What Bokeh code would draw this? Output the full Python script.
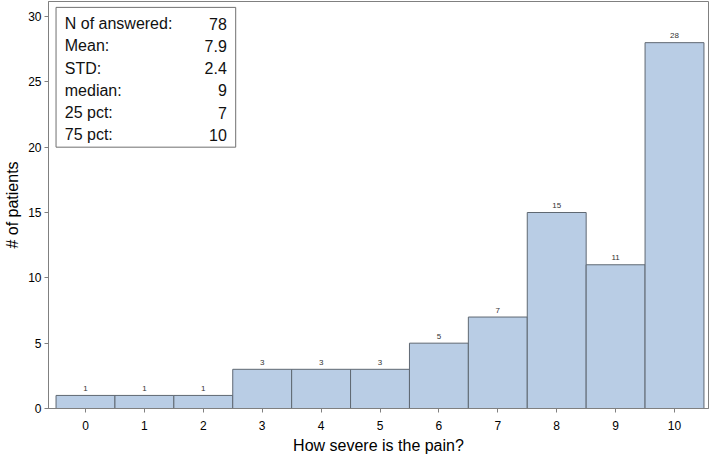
from bokeh.plotting import figure
from bokeh.models import Range1d, FixedTicker, ColumnDataSource
from bokeh.core.properties import value
from bokeh.embed import file_html
from bokeh.resources import INLINE

# ---- data ----
scores = [0, 1, 2, 3, 4, 5, 6, 7, 8, 9, 10]
counts = [1, 1, 1, 3, 3, 3, 5, 7, 15, 11, 28]
stat_names = ["N of answered:", "Mean:", "STD:", "median:", "25 pct:", "75 pct:"]
stat_values = ["78", "7.9", "2.4", "9", "7", "10"]
y_ticks = [0, 5, 10, 15, 20, 25, 30]

FONT = "Liberation Sans"

p = figure(width=710, height=456, output_backend="svg", toolbar_location=None,
           x_range=Range1d(-0.628, 10.577), y_range=Range1d(0, 31.15),
           min_border_left=48, min_border_right=2, min_border_top=1, min_border_bottom=46)
p.background_fill_color = "white"
p.border_fill_color = "white"
p.outline_line_color = "#808080"
p.outline_line_width = 1
p.xgrid.visible = False
p.ygrid.visible = False

src = ColumnDataSource(dict(x=scores, top=counts, lbl=[str(c) for c in counts]))
p.vbar(x="x", top="top", bottom=0, width=1.0, source=src,
       fill_color="#b9cde5", line_color="#5f6872", line_width=1)
p.text(x="x", y="top", text="lbl", source=src, text_align="center", text_baseline="middle",
       y_offset=-7, text_font_size="8px", text_color="#333333", text_font=value(FONT))

# axes
for ax in (p.xaxis[0], p.yaxis[0]):
    ax.axis_line_color = "#808080"
    ax.major_tick_line_color = "#808080"
    ax.minor_tick_line_color = None
    ax.major_tick_in = 0
    ax.major_tick_out = 4
    ax.major_label_text_font = FONT
    ax.major_label_text_font_size = "12px"
    ax.major_label_text_color = "#000000"
    ax.axis_label_text_font = FONT
    ax.axis_label_text_font_size = "16px"
    ax.axis_label_text_font_style = "normal"
    ax.axis_label_text_color = "#000000"

p.xaxis.ticker = FixedTicker(ticks=scores)
p.yaxis.ticker = FixedTicker(ticks=y_ticks)
p.xaxis.axis_label = "How severe is the pain?"
p.yaxis.axis_label = "# of patients"
p.xaxis.major_label_standoff = 8
p.xaxis.axis_label_standoff = 4
p.yaxis.major_label_standoff = 3
p.yaxis.axis_label_standoff = 4

# stats box
p.quad(left=[-0.5], right=[2.55], bottom=[20.0], top=[30.7],
       fill_color="white", line_color="#707070", line_width=1)

row_top = 29.45
row_step = 1.70
rows_y = [row_top - i * row_step for i in range(len(stat_names))]
p.text(x=[-0.352] * len(stat_names), y=rows_y, text=stat_names, text_align="left",
       text_baseline="middle", text_font_size="16px", text_color="#111111", text_font=value(FONT))
p.text(x=[2.40] * len(stat_values), y=rows_y, text=stat_values, text_align="right",
       text_baseline="middle", text_font_size="16px", text_color="#111111", text_font=value(FONT))

open("out.html", "w").write(file_html(p, INLINE))
